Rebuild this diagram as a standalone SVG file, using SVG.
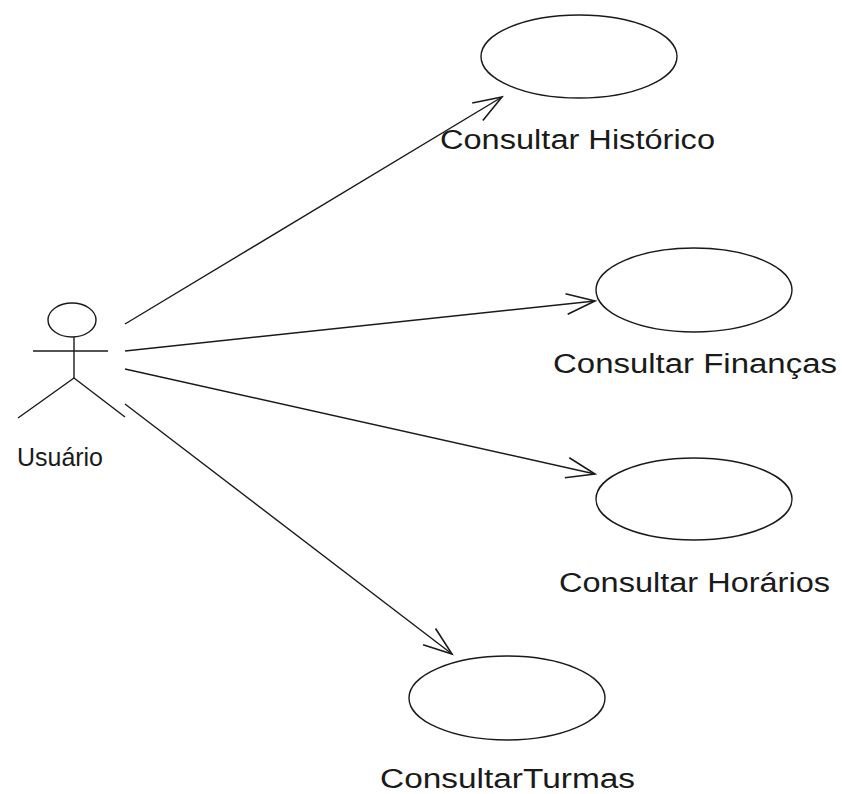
<svg xmlns="http://www.w3.org/2000/svg" width="842" height="794" viewBox="0 0 842 794">
<style>
.s{fill:none;stroke:#1a1a1a;stroke-width:1.4}
.t{font-family:"Liberation Sans",Arial,sans-serif;font-size:27px;fill:#1a1a1a}
</style>
<defs>
<marker id="open" markerUnits="userSpaceOnUse" markerWidth="40" markerHeight="40" viewBox="-30 -15 35 30" refX="0" refY="0" orient="auto">
<path d="M -25 -9 L 0 0 L -25 9" fill="none" stroke="#1a1a1a" stroke-width="1.4"/>
</marker>
</defs>
<rect width="842" height="794" fill="#ffffff"/>
<g id="actor-usuario">
<ellipse class="s" cx="72" cy="320" rx="24" ry="17"/>
<line class="s" x1="33" y1="351" x2="108" y2="351"/>
<line class="s" x1="74" y1="337" x2="74" y2="378"/>
<line class="s" x1="74" y1="378" x2="18" y2="418"/>
<line class="s" x1="74" y1="378" x2="125" y2="417"/>
<text class="t" x="17" y="466" style="font-size:26px" textLength="86" lengthAdjust="spacingAndGlyphs">Usuário</text>
</g>
<g id="uc-historico">
<ellipse class="s" cx="579" cy="56.5" rx="98" ry="41.5"/>
<text class="t" x="440" y="149" textLength="275" lengthAdjust="spacingAndGlyphs">Consultar Histórico</text>
</g>
<g id="uc-financas">
<ellipse class="s" cx="694" cy="290" rx="98" ry="42"/>
<text class="t" x="553" y="373" textLength="284" lengthAdjust="spacingAndGlyphs">Consultar Finanças</text>
</g>
<g id="uc-horarios">
<ellipse class="s" cx="694" cy="499" rx="98" ry="41"/>
<text class="t" x="559" y="592" textLength="271" lengthAdjust="spacingAndGlyphs">Consultar Horários</text>
</g>
<g id="uc-turmas">
<ellipse class="s" cx="507" cy="698" rx="98" ry="42"/>
<text class="t" x="380" y="788" textLength="255" lengthAdjust="spacingAndGlyphs">ConsultarTurmas</text>
</g>
<g id="connectors">
<line class="s" x1="125" y1="324" x2="502" y2="97" marker-end="url(#open)"/>
<line class="s" x1="125" y1="351" x2="595" y2="301" marker-end="url(#open)"/>
<line class="s" x1="125" y1="369" x2="595" y2="474" marker-end="url(#open)"/>
<line class="s" x1="125" y1="404" x2="452" y2="654" marker-end="url(#open)"/>
</g>
</svg>
